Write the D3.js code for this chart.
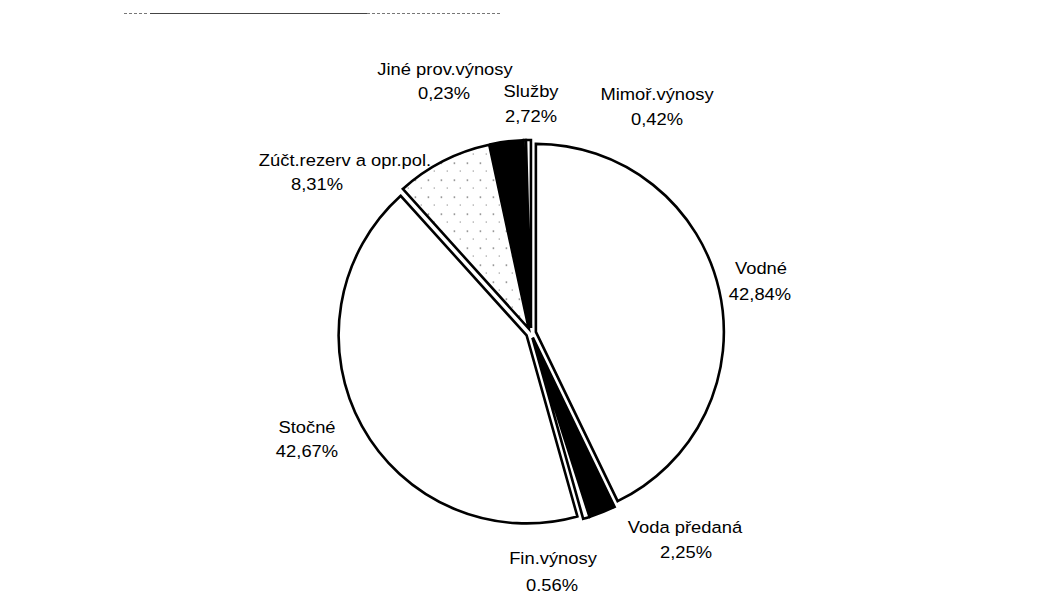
<!DOCTYPE html>
<html><head><meta charset="utf-8">
<script src="https://cdn.jsdelivr.net/npm/d3@7"></script>
<style>body{margin:0;background:#fff}svg{display:block}text{font-family:Arial,"Liberation Sans",sans-serif;fill:#000}</style>
</head><body><svg id="c" width="1043" height="609"></svg>
<script>
const categories = ["Vodné","Voda předaná","Fin.výnosy","Stočné","Zúčt.rezerv a opr.pol.","Služby","Jiné prov.výnosy","Mimoř.výnosy"];
const values = [42.84, 2.25, 0.56, 42.67, 8.31, 2.72, 0.23, 0.42];
const valueLabels = ["42,84%","2,25%","0.56%","42,67%","8,31%","2,72%","0,23%","0,42%"];
const fills = ["white","black","white","white","url(#dots)","black","white","white"];
// label anchor points (center x, baseline)
const labelPos = [[761,274],[685,533],[553,564],[307,433],[345,166],[531,97],[445,75],[657,100]];
const valuePos = [[760,300],[686,558],[552,591],[307,457],[317,190],[531,122],[444,99],[657,125]];

const svg = d3.select("#c");
const defs = svg.append("defs");
const pat = defs.append("pattern").attr("id","dots").attr("patternUnits","userSpaceOnUse").attr("width",13).attr("height",17);
pat.append("rect").attr("width",13).attr("height",17).attr("fill","white");
pat.append("rect").attr("x",3).attr("y",4).attr("width",1.2).attr("height",1.2).attr("fill","#333");
pat.append("rect").attr("x",9).attr("y",12).attr("width",1).attr("height",1).attr("fill","#666");

// scan artifact line at top
const topLine = svg.append("g").attr("stroke","#444").attr("stroke-width",1);
topLine.append("line").attr("x1",150).attr("x2",367).attr("y1",13.5).attr("y2",13.5);
topLine.append("line").attr("x1",367).attr("x2",500).attr("y1",13.5).attr("y2",13.5).attr("stroke-dasharray","3,2").attr("stroke","#777");
topLine.append("line").attr("x1",124).attr("x2",148).attr("y1",13.5).attr("y2",13.5).attr("stroke-dasharray","3,2").attr("stroke","#777");

const cx = 531, cy = 333, R = 188, explode = 5;
const pie = d3.pie().sort(null).value(d=>d).startAngle(0).endAngle(2*Math.PI);
const arcs = pie(values);
const arc = d3.arc().innerRadius(0).outerRadius(R);
const g = svg.append("g").attr("transform",`translate(${cx},${cy})`);
g.selectAll("path").data(arcs).join("path")
  .attr("d",arc)
  .attr("transform",d=>{const a=(d.startAngle+d.endAngle)/2;return `translate(${explode*Math.sin(a)},${-explode*Math.cos(a)})`;})
  .attr("fill",(d,i)=>fills[i])
  .attr("stroke","black").attr("stroke-width",2.6).attr("stroke-linejoin","miter");

const lab = svg.append("g").attr("font-size",17).attr("text-anchor","middle");
categories.forEach((c,i)=>{
  lab.append("text").attr("transform",`translate(${labelPos[i][0]},${labelPos[i][1]}) scale(1.08,1)`).text(c);
  lab.append("text").attr("transform",`translate(${valuePos[i][0]},${valuePos[i][1]}) scale(1.08,1)`).text(valueLabels[i]);
});
</script></body></html>
